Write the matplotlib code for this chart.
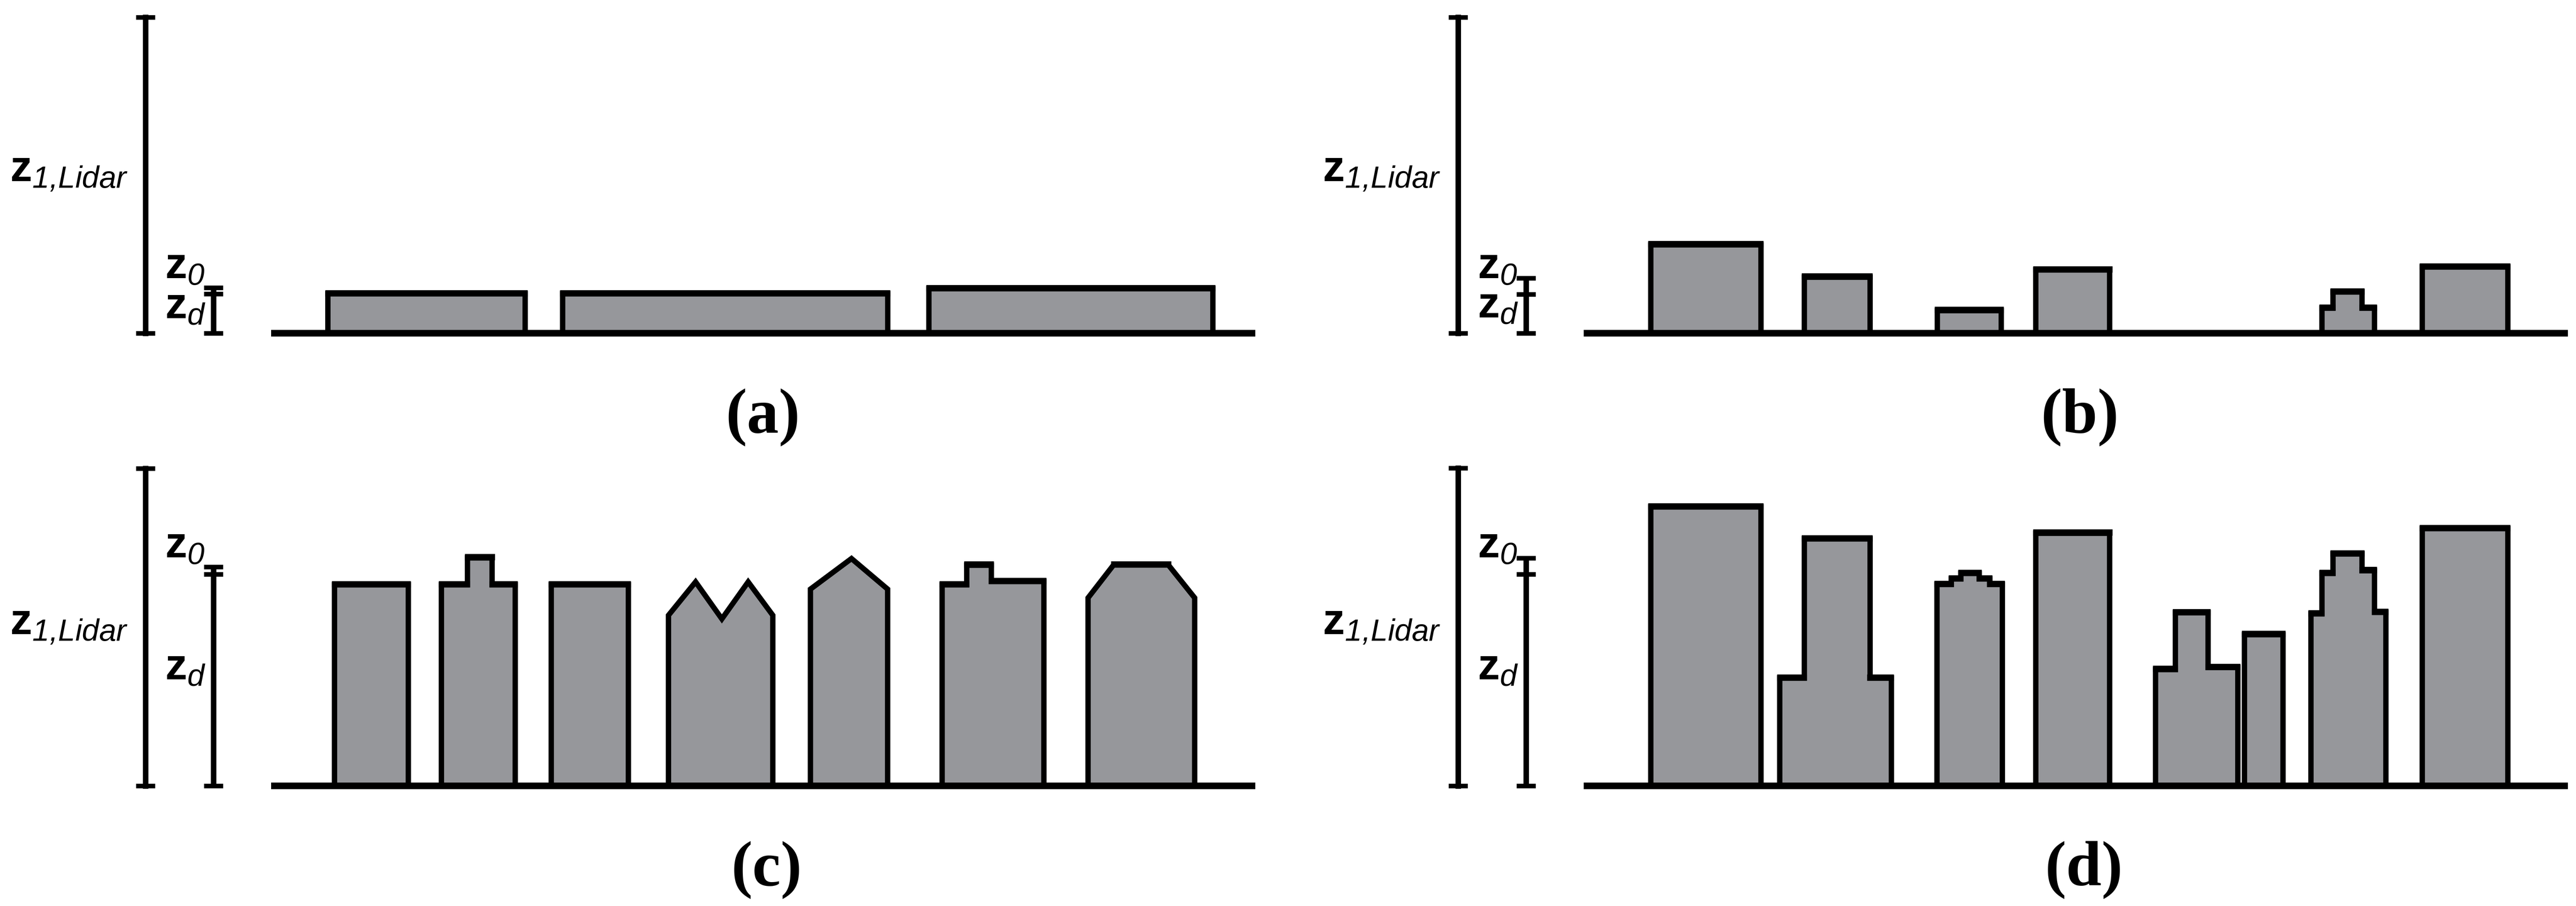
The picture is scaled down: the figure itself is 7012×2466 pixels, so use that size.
import matplotlib.pyplot as plt

plt.rcParams['mathtext.fontset'] = 'custom'
plt.rcParams['mathtext.rm'] = 'Liberation Sans:italic'
plt.rcParams['mathtext.bf'] = 'Liberation Sans:bold'
plt.rcParams['mathtext.it'] = 'Liberation Sans:italic'

# Heights measured above the ground line, x along each panel (same units)
panel_tags = ['(a)', '(b)', '(c)', '(d)']
lidar_top = [192.3, 192.3, 193.2, 193.3]
z0_vals = [27.8, 33.6, 133.2, 138.5]
zd_vals = [24.0, 23.8, 128.8, 128.8]

# roof profiles (x, height) from left wall to right wall
roofs_a = [
    [(199.5, 24.2), (319.5, 24.2)],
    [(342.4, 24.2), (540.3, 24.2)],
    [(565.3, 27.2), (738.2, 27.2)],
]
roofs_b = [
    [(205.7, 54.0), (272.7, 54.0)],
    [(299.2, 34.3), (339.1, 34.3)],
    [(380.1, 14.0), (419.1, 14.0)],
    [(440.1, 38.6), (485.1, 38.6)],
    [(614.3, 15.4), (621.0, 15.4), (621.0, 25.3), (638.6, 25.3),
     (638.6, 15.4), (646.3, 15.4)],
    [(675.4, 40.5), (727.4, 40.5)],
]
roofs_c = [
    [(203.5, 122.4), (248.5, 122.4)],
    [(268.5, 122.4), (284.5, 122.4), (284.5, 138.9), (299.5, 138.9),
     (299.5, 122.4), (313.5, 122.4)],
    [(335.5, 122.4), (382.4, 122.4)],
    [(406.9, 103.8), (423.4, 124.1), (439.4, 101.6), (455.4, 124.1),
     (470.4, 103.8)],
    [(493.3, 119.7), (518.3, 138.3), (540.3, 119.7)],
    [(573.3, 122.4), (588.3, 122.4), (588.3, 134.4), (603.3, 134.4),
     (603.3, 124.5), (635.3, 124.5)],
    [(662.3, 114.4), (677.8, 134.4), (711.2, 134.4), (727.2, 114.4)],
]
roofs_d = [
    [(205.7, 169.9), (272.7, 169.9)],
    [(284.2, 65.7), (299.2, 65.7), (299.2, 150.4), (339.1, 150.4),
     (339.1, 65.7), (352.1, 65.7)],
    [(380.0, 122.7), (388.6, 122.7), (388.6, 126.0), (394.4, 126.0),
     (394.4, 129.4), (405.6, 129.4), (405.6, 126.0), (412.0, 126.0),
     (412.0, 122.7), (419.7, 122.7)],
    [(440.1, 153.9), (485.1, 153.9)],
    [(513.0, 71.0), (525.0, 71.0), (525.0, 105.5), (545.0, 105.5),
     (545.0, 72.2), (563.0, 72.2)],
    [(567.0, 92.2), (590.5, 92.2)],
    [(607.5, 104.8), (614.3, 104.8), (614.3, 129.4), (621.0, 129.4),
     (621.0, 141.2), (638.6, 141.2), (638.6, 131.1), (646.3, 131.1),
     (646.3, 105.7), (653.1, 105.7)],
    [(675.4, 156.6), (727.4, 156.6)],
]
all_roofs = [roofs_a, roofs_b, roofs_c, roofs_d]

GRAY = '#96979b'
W, H = 1568, 551  # layout units of the whole figure

fig = plt.figure(figsize=(70.12, 24.66), dpi=100)

# panel origin (left, top) in layout units
origins = [(0, 0), (799, 0), (0, 275.3), (799, 275.3)]
label_z0_y = [33.4, 33.4, 138.7, 138.7]
label_zd_y = [9.3, 9.7, 65.0, 65.0]
tag_x = [464.4, 467.0, 466.6, 469.4]

for i in range(4):
    x0, y0 = origins[i]
    ax = fig.add_axes([x0 / W, 1 - (y0 + 275.5) / H, 769 / W, 275.5 / H])
    ax.set_xlim(0, 769)
    ax.set_ylim(-72.8, 202.7)
    ax.axis('off')

    # buildings
    for roof in all_roofs[i]:
        xs = [roof[0][0]] + [p[0] for p in roof] + [roof[-1][0]]
        ys = [0] + [p[1] for p in roof] + [0]
        ax.fill(xs, ys, facecolor=GRAY, edgecolor='black', linewidth=10.5,
                joinstyle='miter', zorder=2)
        # flat roof parts are drawn a bit heavier
        for (xa, ha), (xb, hb) in zip(roof[:-1], roof[1:]):
            if ha == hb:
                ax.plot([xa - 1.6, xb + 1.6], [ha + 0.3, hb + 0.3], color='black',
                        lw=12.5, solid_capstyle='butt', zorder=2.5)

    # ground
    ax.plot([165, 764], [0, 0], color='black', lw=13, solid_capstyle='butt', zorder=3)

    # z_1,Lidar bar
    ax.plot([88.5, 88.5], [0, lidar_top[i]], color='black', lw=10.8,
            solid_capstyle='projecting', zorder=3)
    ax.hlines([0, lidar_top[i]], 88.5 - 5.8, 88.5 + 5.8, color='black', lw=9, zorder=3)

    # z_d / z_0 bar
    ax.plot([130, 130], [0, z0_vals[i]], color='black', lw=10.8, solid_capstyle='butt', zorder=3)
    ax.hlines([0, zd_vals[i], z0_vals[i]], 130 - 5.8, 130 + 5.8, color='black', lw=9, zorder=3)

    ax.text(6.0, 92.3, r'$\mathbf{z}_{1{,}Lidar}$', fontsize=86,
            ha='left', va='baseline')
    ax.text(100.4, label_z0_y[i], r'$\mathbf{z}_{0}$', fontsize=86,
            ha='left', va='baseline')
    ax.text(100.4, label_zd_y[i], r'$\mathbf{z}_{d}$', fontsize=86,
            ha='left', va='baseline')

    ax.text(tag_x[i], -60.5, panel_tags[i], fontsize=125, fontweight='bold',
            family='Liberation Serif', ha='center', va='baseline')

fig.savefig('out.png', dpi=100)
